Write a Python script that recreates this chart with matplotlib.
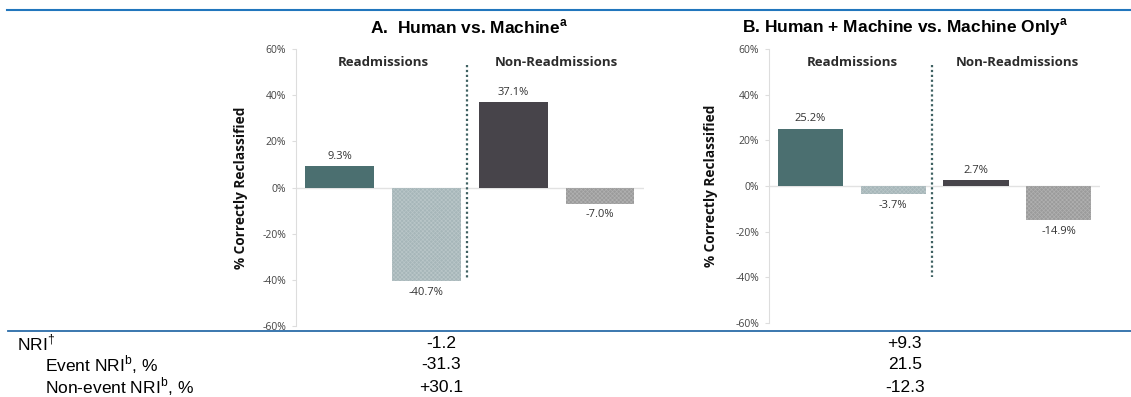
import numpy as np
import matplotlib
matplotlib.use("Agg")
import matplotlib.pyplot as plt
from matplotlib.lines import Line2D

plt.rcParams['mathtext.fontset'] = 'custom'
plt.rcParams['mathtext.rm'] = 'Liberation Sans'
plt.rcParams['mathtext.bf'] = 'Liberation Sans:bold'
plt.rcParams['hatch.linewidth'] = 0.5

# data
groups = ['Readmissions', 'Non-Readmissions']
vals_a = [9.3, -40.7, 37.1, -7.0]
vals_b = [25.2, -3.7, 2.7, -14.9]
bar_colors = ['#4b6f70', '#a6b6b9', '#47444a', '#9b9b9b']
bar_hatch = [None, 'xxxxxxxx', None, 'xxxxxxxx']
hatch_edge = ['#4b6f70', '#b9c6c8', '#47444a', '#b0b0b0']
yticks = [-60, -40, -20, 0, 20, 40, 60]

row_labels = [r'NRI$^{\dagger}$', r'Event NRI$^{\mathrm{b}}$, %', r'Non-event NRI$^{\mathrm{b}}$, %']
nri_a = ['-1.2', '-31.3', '+30.1']
nri_b = ['+9.3', '21.5', '-12.3']

cfont = 'Open Sans'

fig = plt.figure(figsize=(11.31, 3.97), dpi=100)

def panel(rect, vals, ylab_x):
    ax = fig.add_axes(rect)
    x = np.arange(len(vals))
    for i in range(len(vals)):
        ax.bar(x[i], vals[i], width=0.79, color=bar_colors[i], hatch=bar_hatch[i],
               edgecolor=hatch_edge[i], linewidth=0, zorder=3)
        if vals[i] >= 0:
            ax.annotate(f'{vals[i]:.1f}%', (x[i], vals[i]), xytext=(0, 3),
                        textcoords='offset points', ha='center', va='bottom',
                        fontsize=8, color='#333333', family=cfont)
        else:
            ax.annotate(f'{vals[i]:.1f}%', (x[i], vals[i]), xytext=(0, -4),
                        textcoords='offset points', ha='center', va='top',
                        fontsize=8, color='#333333', family=cfont)
    ax.axhline(0, color='#e2e2e2', lw=1, zorder=1)
    ax.plot([1.47, 1.47], [53, -40], ls=(0, (1, 1.2)), color='#3f6162', lw=1.6, zorder=4)
    ax.text(0.5, 54, groups[0], ha='center', va='center', fontsize=9.5,
            fontweight='bold', color='#2b2b2b', family=cfont)
    ax.text(2.5, 54, groups[1], ha='center', va='center', fontsize=9.5,
            fontweight='bold', color='#2b2b2b', family=cfont)
    ax.set_xlim(-0.5, 3.5)
    ax.set_ylim(-60, 60)
    ax.set_yticks(yticks)
    ax.set_yticklabels([f'{t}%' for t in yticks], family=cfont, fontsize=7.5, color='#444444')
    ax.set_xticks([])
    for s in ['top', 'right', 'bottom']:
        ax.spines[s].set_visible(False)
    ax.spines['left'].set_color('#dddddd')
    ax.tick_params(axis='y', length=3, color='#dddddd', pad=4)
    ax.set_ylabel('% Correctly Reclassified', family=cfont, fontweight='bold',
                  fontsize=9.8, color='#111111')
    ax.yaxis.set_label_coords(ylab_x, 0.5)
    return ax

panel([0.2617, 0.1788, 0.3073, 0.6977], vals_a, -0.138)
panel([0.680, 0.1864, 0.2927, 0.690], vals_b, -0.154)

fig.text(0.4147, 0.932, r'A.  Human vs. Machine$^{\mathbf{a}}$', ha='center', va='center',
         fontsize=12.5, fontweight='bold', family='Liberation Sans')
fig.text(0.800, 0.932, r'B. Human + Machine vs. Machine Only$^{\mathbf{a}}$', ha='center',
         va='center', fontsize=12.5, fontweight='bold', family='Liberation Sans')

fig.add_artist(Line2D([0.006, 1], [0.975, 0.975], color='#2176bd', lw=1.5))
fig.add_artist(Line2D([0.007, 1], [0.166, 0.166], color='#2b6ca8', lw=1.3))

row_y = [0.136, 0.081, 0.025]
row_x = [0.015, 0.040, 0.040]
for i in range(3):
    fig.text(row_x[i], row_y[i], row_labels[i], ha='left', va='center', fontsize=12.5,
             family='Liberation Sans')
    fig.text(0.390, row_y[i], nri_a[i], ha='center', va='center', fontsize=12.5,
             family='Liberation Sans')
    fig.text(0.800, row_y[i], nri_b[i], ha='center', va='center', fontsize=12.5,
             family='Liberation Sans')

fig.savefig('out.png', dpi=100)
